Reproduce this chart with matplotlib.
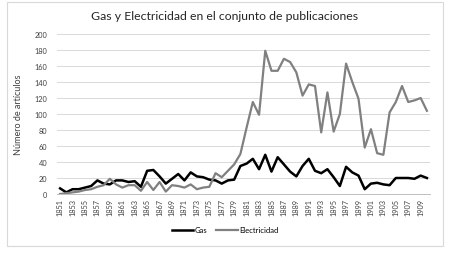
import matplotlib.pyplot as plt
from matplotlib.patches import Rectangle

# Years and article counts
years = list(range(1851, 1911))
gas = [7, 2, 6, 6, 8, 10, 17, 13, 12, 17,
       17, 15, 16, 9, 29, 30, 22, 13, 19, 25,
       17, 27, 22, 21, 18, 17, 13, 17, 18, 35,
       38, 44, 31, 49, 28, 46, 37, 28, 22, 35,
       44, 29, 26, 31, 21, 10, 34, 27, 23, 6,
       13, 14, 12, 11, 20, 20, 20, 19, 23, 20]
electricidad = [0, 1, 2, 3, 5, 6, 9, 11, 19, 12,
                8, 11, 11, 4, 15, 5, 15, 3, 11, 10,
                8, 12, 6, 8, 9, 26, 21, 29, 37, 50,
                83, 115, 99, 179, 154, 154, 169, 165, 152, 123,
                137, 135, 77, 127, 78, 100, 163, 140, 119, 58,
                81, 51, 49, 102, 115, 135, 115, 117, 120, 104]
y_ticks = list(range(0, 201, 20))

plt.rcParams['font.family'] = ['Lato', 'DejaVu Sans']

fig = plt.figure(figsize=(4.5, 2.55), dpi=100)
fig.patches.append(Rectangle((7 / 450, 1 - 247 / 255), 436 / 450, 244 / 255,
                             transform=fig.transFigure, fill=False,
                             edgecolor='#d9d9d9', linewidth=0.8))

ax = fig.add_axes([57 / 450, 60 / 255, 373 / 450, 160 / 255])
x = list(range(len(years)))
ax.plot(x, gas, color='black', linewidth=1.8, label='Gas', solid_joinstyle='round')
ax.plot(x, electricidad, color='#808080', linewidth=1.6, label='Electricidad',
        solid_joinstyle='round')

ax.set_xlim(-0.5, len(years) - 0.5)
ax.set_ylim(0, 200)
ax.set_yticks(y_ticks)
ax.set_xticks(x[::2])
ax.set_xticklabels([str(y) for y in years[::2]], rotation=90)
ax.tick_params(axis='both', labelsize=5.3, length=0, colors='#404040')
ax.tick_params(axis='x', pad=3)
ax.tick_params(axis='y', pad=7)
ax.grid(axis='y', color='#d9d9d9', linewidth=0.7)
ax.set_axisbelow(True)
for side in ['top', 'right', 'left']:
    ax.spines[side].set_visible(False)
ax.spines['bottom'].set_color('#bfbfbf')
ax.spines['bottom'].set_linewidth(0.7)

ax.set_ylabel('Número de artículos', fontsize=6.5, color='#404040', labelpad=8)
fig.text(0.5, 1 - 17 / 255, 'Gas y Electricidad en el conjunto de publicaciones',
         ha='center', va='center', fontsize=8.8, color='#262626')

fig.legend(loc='center', bbox_to_anchor=(0.5, 1 - 231 / 255), ncol=2, frameon=False,
           fontsize=5.5, handlelength=2.8, handletextpad=0.2, columnspacing=1.2)

fig.savefig('out.png', dpi=100)
